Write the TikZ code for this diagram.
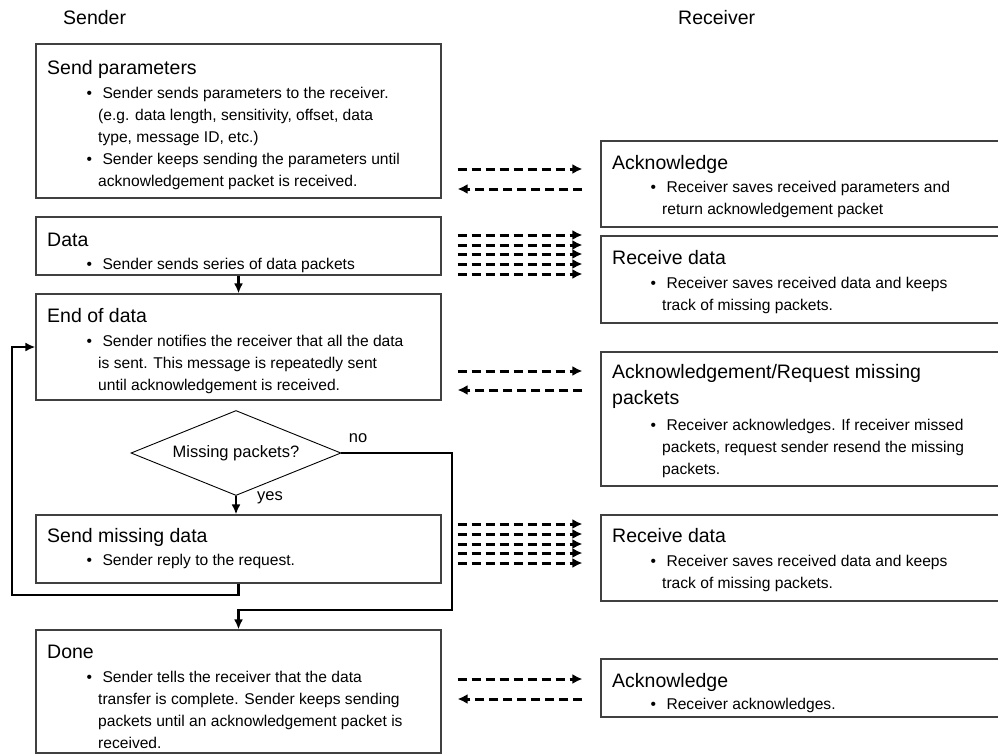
\documentclass[tikz,border=0pt]{standalone}
\usepackage{fontspec}
\setmainfont{Liberation Sans}
\usetikzlibrary{arrows.meta,positioning,calc,shapes.geometric}

\newcommand\pbul{\llap{\textbullet\hspace{6pt}}\ }
\newcommand\rows[1]{\begin{tabular}[t]{@{}l@{}}#1\end{tabular}}

\begin{document}
\begin{tikzpicture}[x=1pt,y=-1pt,
box/.style={draw=black!75,line width=1.2pt,inner sep=0pt},
lbox/.style={box,minimum width=405pt},
rbox/.style={box,minimum width=409pt},
ttl/.style={anchor=base west,inner sep=0pt,font=\fontsize{19.5}{26}\selectfont},
txt/.style={anchor=base west,inner sep=0pt,font=\fontsize{15.6}{22}\selectfont},
lbl/.style={inner sep=0pt,font=\fontsize{16.5}{20}\selectfont},
flow/.style={-{Latex[length=10pt,width=9pt]},line width=2.6pt},
msg/.style={-{Latex[length=10pt,width=10pt]},line width=3pt,dash pattern=on 9.5pt off 4.5pt}]

\useasboundingbox (0,0) rectangle (998,755);
\clip (0,0) rectangle (998,755);

% column heads
\node[ttl] (sender) at (63,24) {Sender};
\node[ttl] (receiver) at (678,24) {Receiver};

% sender side
\node[lbox,minimum height=154pt] (params) at (238.5,121) {};
\node[ttl] (paramsT) at (47,74) {Send parameters};
\node[txt] (paramsB) at (98,98.5) {\rows{\pbul Sender sends parameters to the receiver.\\
(e.g. data length, sensitivity, offset, data\\ type, message ID, etc.)\\
\pbul Sender keeps sending the parameters until\\ acknowledgement packet is received.}};

\node[lbox,minimum height=58pt] (data) at (238.5,246) {};
\node[ttl] (dataT) at (47,246) {Data};
\node[txt] (dataB) at (98,269.5) {\rows{\pbul Sender sends series of data packets}};

\node[lbox,minimum height=106pt] (eod) at (238.5,347) {};
\node[ttl] (eodT) at (47,322) {End of data};
\node[txt] (eodB) at (98,346.5) {\rows{\pbul Sender notifies the receiver that all the data\\
is sent. This message is repeatedly sent\\ until acknowledgement is received.}};

\node[diamond,draw,line width=0.9pt,inner sep=0pt,aspect=2.47,
  minimum width=210pt,minimum height=85pt,
  font=\fontsize{16.5}{20}\selectfont] (dec) at (236,453) {Missing packets?};

\node[lbox,minimum height=68pt] (missing) at (238.5,549) {};
\node[ttl] (missingT) at (47,542) {Send missing data};
\node[txt] (missingB) at (98,565.5) {\rows{\pbul Sender reply to the request.}};

\node[lbox,minimum height=123pt] (done) at (238.5,691.5) {};
\node[ttl] (doneT) at (47,658) {Done};
\node[txt] (doneB) at (98,682.5) {\rows{\pbul Sender tells the receiver that the data\\
transfer is complete. Sender keeps sending\\ packets until an acknowledgement packet is\\ received.}};

% receiver side
\node[rbox,minimum height=86pt] (ack1) at (805.5,184) {};
\node[ttl] (ack1T) at (612,169) {Acknowledge};
\node[txt] (ack1B) at (662,192.5) {\rows{\pbul Receiver saves received parameters and\\ return acknowledgement packet}};

\node[rbox,minimum height=87pt] (recv1) at (805.5,279.5) {};
\node[ttl] (recv1T) at (612,264) {Receive data};
\node[txt] (recv1B) at (662,288.5) {\rows{\pbul Receiver saves received data and keeps\\ track of missing packets.}};

\node[rbox,minimum height=134pt] (req) at (805.5,419) {};
\node[ttl] (reqT) at (612,378) {\begin{tabular}[t]{@{}l@{}}Acknowledgement/Request missing\\ packets\end{tabular}};
\node[txt] (reqB) at (662,430.5) {\rows{\pbul Receiver acknowledges. If receiver missed\\
packets, request sender resend the missing\\ packets.}};

\node[rbox,minimum height=86pt] (recv2) at (805.5,558) {};
\node[ttl] (recv2T) at (612,542) {Receive data};
\node[txt] (recv2B) at (662,566.5) {\rows{\pbul Receiver saves received data and keeps\\ track of missing packets.}};

\node[rbox,minimum height=58pt] (ack2) at (805.5,688) {};
\node[ttl] (ack2T) at (612,687) {Acknowledge};
\node[txt] (ack2B) at (662,709.5) {\rows{\pbul Receiver acknowledges.}};

% flow on the sender side
\node[lbl] (no) at (358,438) {no};
\node[lbl] (yes) at (270,498) {yes};
\coordinate (noturn) at (452,610);
\coordinate (back) at (12,595);
\draw[flow] (data) -- (eod);
\draw[flow] (dec.south) -- (dec.south |- missing.north);
\draw[flow] (dec.east) -| (noturn) -| (done.north);
\draw[flow] (missing.south) |- (back) |- (eod.west);

% messages
\draw[msg,shorten <=16pt,shorten >=18pt] (params.east |- 0,169) -- (ack1.west |- 0,169);
\draw[msg,shorten <=18pt,shorten >=16pt] (ack1.west |- 0,189) -- (params.east |- 0,189);
\foreach \y in {235,245,254,264,274}
  \draw[msg,shorten <=16pt,shorten >=18pt] (data.east |- 0,\y) -- (recv1.west |- 0,\y);
\draw[msg,shorten <=16pt,shorten >=18pt] (eod.east |- 0,371) -- (req.west |- 0,371);
\draw[msg,shorten <=18pt,shorten >=16pt] (req.west |- 0,390) -- (eod.east |- 0,390);
\foreach \y in {524,534,544,553,563}
  \draw[msg,shorten <=16pt,shorten >=18pt] (missing.east |- 0,\y) -- (recv2.west |- 0,\y);
\draw[msg,shorten <=16pt,shorten >=18pt] (done.east |- 0,679) -- (ack2.west |- 0,679);
\draw[msg,shorten <=18pt,shorten >=16pt] (ack2.west |- 0,699) -- (done.east |- 0,699);
\end{tikzpicture}
\end{document}
